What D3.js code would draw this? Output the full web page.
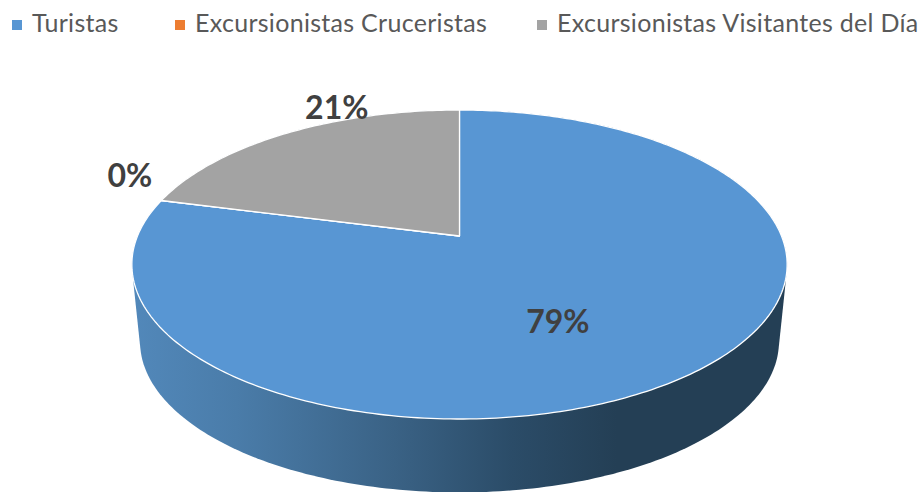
<!DOCTYPE html>
<html>
<head>
<meta charset="utf-8">
<script src="https://cdnjs.cloudflare.com/ajax/libs/d3/7.8.5/d3.min.js"></script>
<style>
  html, body { margin: 0; padding: 0; background: #fff; overflow: hidden; }
  svg { display: block; }
  text { font-family: Lato, "Open Sans", sans-serif; }
</style>
</head>
<body>
<svg id="chart" width="920" height="492"></svg>
<script>
// Data
const categories = ["Turistas", "Excursionistas Cruceristas", "Excursionistas Visitantes del Día"];
const shares = [79, 0, 21];
const colors = ["#5896d3", "#ed7d31", "#a3a3a3"];

// Layout of the labels, relative to the projected slice
const labelRadius = [0.5, 1.15, 1.05];
const labelNudge = [[-8, 22], [11, -20], [57, -21]];
const legendX = [12, 175, 537];

// Tilted disc: perspective projection of the unit circle
const cx = 459.5, cy = 236, R = 322, squash = 105.7, persp = -0.1845;
const depthScale = 0.975, depth = 78;

function project(angle, r, scale = 1, dy = 0) {
    const u = r * Math.sin(angle), v = -r * Math.cos(angle);
    const w = 1 + persp * v;
    const y = (squash * v + cy) / w;
    return [cx + scale * R * u / w, cy + dy + scale * (y - cy)];
}

const svg = d3.select("#chart");
const line = d3.line();
const slices = d3.pie().sort(null).value(d => d)(shares);

// Side wall gradient
const grad = svg.append("defs").append("linearGradient")
    .attr("id", "wall")
    .attr("gradientUnits", "userSpaceOnUse")
    .attr("x1", 132).attr("x2", 787).attr("y1", 0).attr("y2", 0);
[[0, "#5288ba"], [0.16, "#4a7ca9"], [0.4, "#3a6285"], [0.58, "#2b4c68"], [0.74, "#243f55"], [1, "#243f55"]]
    .forEach(s => grad.append("stop").attr("offset", s[0]).attr("stop-color", s[1]));

// Side wall is the hull of the top rim and the lower rim
const steps = d3.range(0, 360).map(d => d * Math.PI / 180);
const rims = steps.map(a => project(a, 1)).concat(steps.map(a => project(a, 1, depthScale, depth)));
svg.append("path")
    .attr("d", line(d3.polygonHull(rims)) + "Z")
    .attr("fill", "url(#wall)");

// Top face
svg.append("g").selectAll("path")
    .data(slices)
    .join("path")
    .attr("d", d => {
        const n = Math.max(1, Math.ceil((d.endAngle - d.startAngle) * 60));
        const rim = d3.range(n + 1).map(i => project(d.startAngle + (d.endAngle - d.startAngle) * i / n, 1));
        return line([[cx, cy], ...rim]) + "Z";
    })
    .attr("fill", (d, i) => colors[i])
    .attr("stroke", "#fff")
    .attr("stroke-width", 1.3)
    .attr("stroke-linejoin", "round");

// Percent labels
svg.append("g").selectAll("text")
    .data(slices)
    .join("text")
    .attr("x", (d, i) => project((d.startAngle + d.endAngle) / 2, labelRadius[i])[0] + labelNudge[i][0])
    .attr("y", (d, i) => project((d.startAngle + d.endAngle) / 2, labelRadius[i])[1] + labelNudge[i][1])
    .attr("dy", "0.36em")
    .attr("text-anchor", "middle")
    .attr("font-size", 32)
    .attr("font-weight", 700)
    .attr("fill", "#404040")
    .text(d => d.data + "%");

// Legend
const legend = svg.append("g").selectAll("g")
    .data(categories)
    .join("g")
    .attr("transform", (d, i) => `translate(${legendX[i]},0)`);
legend.append("rect")
    .attr("y", 20).attr("width", 10).attr("height", 10)
    .attr("fill", (d, i) => colors[i]);
legend.append("text")
    .attr("x", 20).attr("y", 32)
    .attr("font-size", 25)
    .attr("letter-spacing", 0.3)
    .attr("fill", "#595959")
    .text(d => d);
</script>
</body>
</html>
